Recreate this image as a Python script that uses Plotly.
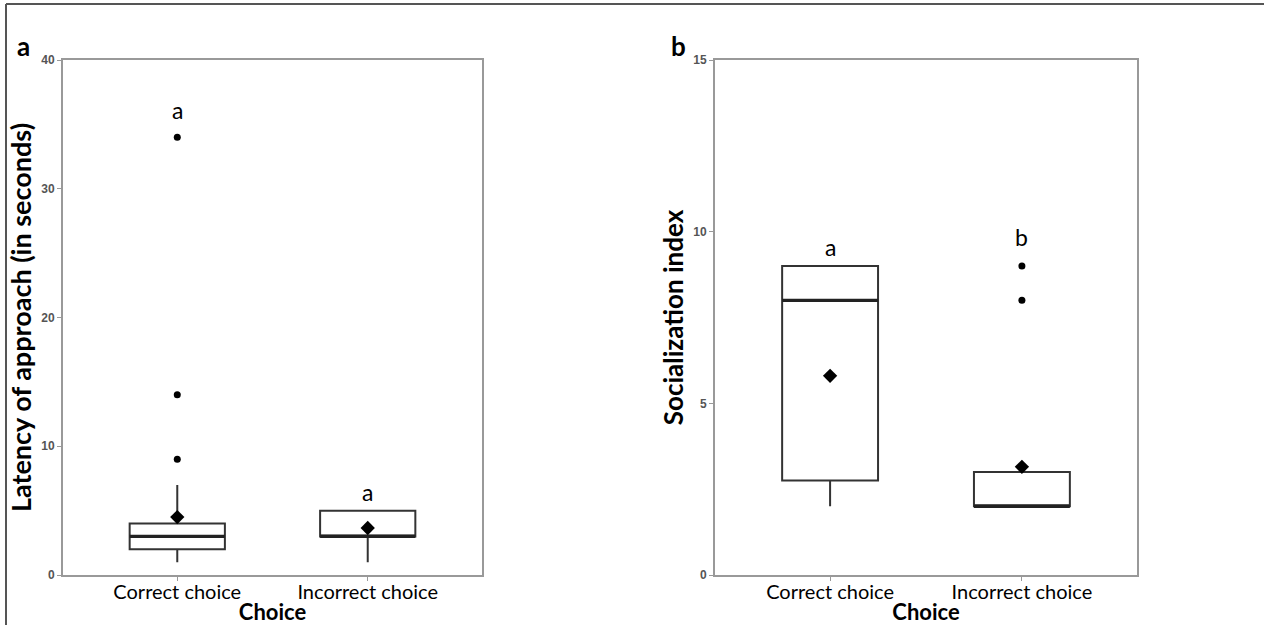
import plotly.graph_objects as go

W, H = 1264, 625

categories = ["Correct choice", "Incorrect choice"]

# Panel a: latency of approach (seconds)
lat_q1 = [2, 3]
lat_median = [3, 3]
lat_q3 = [4, 5]
lat_low = [1, 1]
lat_high = [7, 5]
lat_mean = [4.5, 3.65]
lat_outliers = [[9, 14, 34], []]
lat_letters = ["a", "a"]
lat_letter_y = [36.1, 6.45]

# Panel b: socialization index
soc_q1 = [2.75, 2]
soc_median = [8, 2]
soc_q3 = [9, 3]
soc_low = [2, 2]
soc_high = [9, 3]
soc_mean = [5.8, 3.15]
soc_outliers = [[], [8, 9]]
soc_letters = ["a", "b"]
soc_letter_y = [9.55, 9.85]

pos = list(range(len(categories)))
BOXW = 0.5
LINE = "#333333"
AX = "#999999"
TICKC = "#555555"
FONT = "Lato, 'Noto Sans', Arial, sans-serif"

fig = go.Figure()


def add_panel(xa, ya, q1, med, q3, lo, hi, mean, outl, letters, ly):
    fig.add_trace(go.Box(
        x=pos, q1=q1, median=med, q3=q3, lowerfence=lo, upperfence=hi,
        width=BOXW, whiskerwidth=0, fillcolor="white",
        line=dict(color=LINE, width=2), boxpoints=False,
        xaxis=xa, yaxis=ya, showlegend=False, hoverinfo="skip"))
    # thicker median lines
    for i, p in enumerate(pos):
        fig.add_trace(go.Scatter(
            x=[p - BOXW / 2, p + BOXW / 2], y=[med[i], med[i]], mode="lines",
            line=dict(color="#222222", width=3.2), xaxis=xa, yaxis=ya,
            showlegend=False, hoverinfo="skip"))
    ox, oy = [], []
    for i, p in enumerate(pos):
        for v in outl[i]:
            ox.append(p)
            oy.append(v)
    fig.add_trace(go.Scatter(
        x=ox, y=oy, mode="markers", marker=dict(color="black", size=7),
        xaxis=xa, yaxis=ya, showlegend=False, hoverinfo="skip"))
    fig.add_trace(go.Scatter(
        x=pos, y=mean, mode="markers",
        marker=dict(color="black", size=11, symbol="diamond"),
        xaxis=xa, yaxis=ya, showlegend=False, hoverinfo="skip"))
    for i, p in enumerate(pos):
        fig.add_annotation(x=p, y=ly[i], text=letters[i], showarrow=False,
                           xref=xa, yref=ya, font=dict(family=FONT, size=23, color="black"))


add_panel("x", "y", lat_q1, lat_median, lat_q3, lat_low, lat_high, lat_mean,
          lat_outliers, lat_letters, lat_letter_y)
add_panel("x2", "y2", soc_q1, soc_median, soc_q3, soc_low, soc_high, soc_mean,
          soc_outliers, soc_letters, soc_letter_y)

xcommon = dict(range=[-0.6, 1.6], tickvals=pos, ticktext=categories,
               showline=True, linecolor=AX, linewidth=2, mirror=True,
               ticks="outside", ticklen=4, tickcolor=AX, showgrid=False,
               zeroline=False, automargin=False, ticklabelstandoff=-6,
               tickfont=dict(family=FONT, size=20, color="black"),
               title=dict(text="<b>Choice</b>", font=dict(family=FONT, size=22, color="black"),
                          standoff=0))
ycommon = dict(showline=True, linecolor=AX, linewidth=2, mirror=True,
               ticks="outside", ticklen=4, tickcolor=AX, showgrid=False,
               zeroline=False, automargin=False,
               tickfont=dict(family="Liberation Sans, Arial", size=12, color=TICKC,
                             weight="bold"))

fig.update_layout(
    width=W, height=H, margin=dict(l=0, r=0, t=0, b=0),
    paper_bgcolor="white", plot_bgcolor="white",
    xaxis=dict(domain=[63 / W, 482 / W], anchor="y", **xcommon),
    yaxis=dict(domain=[1 - 575 / H, 1 - 60 / H], anchor="x", range=[0, 40],
               tickvals=[0, 10, 20, 30, 40],
               title=dict(text="<b>Latency of approach (in seconds)</b>",
                          font=dict(family=FONT, size=27, color="black"), standoff=2),
               **ycommon),
    xaxis2=dict(domain=[715 / W, 1137 / W], anchor="y2", **xcommon),
    yaxis2=dict(domain=[1 - 575 / H, 1 - 60 / H], anchor="x2", range=[0, 15],
                tickvals=[0, 5, 10, 15],
                title=dict(text="<b>Socialization index</b>",
                           font=dict(family=FONT, size=26, color="black"), standoff=2),
                **ycommon),
)

# panel letters
fig.add_annotation(x=15 / W, y=1 - 28 / H, xref="paper", yref="paper", text="<b>a</b>",
                   showarrow=False, font=dict(family=FONT, size=26, color="black"))
fig.add_annotation(x=678 / W, y=1 - 28 / H, xref="paper", yref="paper", text="<b>b</b>",
                   showarrow=False, font=dict(family=FONT, size=26, color="black"))

# outer frame (top and left edges)
fig.add_shape(type="line", xref="paper", yref="paper", x0=6 / W, x1=1, y0=1 - 4 / H, y1=1 - 4 / H,
              line=dict(color="#555555", width=2))
fig.add_shape(type="line", xref="paper", yref="paper", x0=6 / W, x1=6 / W, y0=0, y1=1 - 4 / H,
              line=dict(color="#555555", width=2))

fig.write_html("out.html", config={"displayModeBar": False},
               post_script="document.body.style.margin='0px';")
